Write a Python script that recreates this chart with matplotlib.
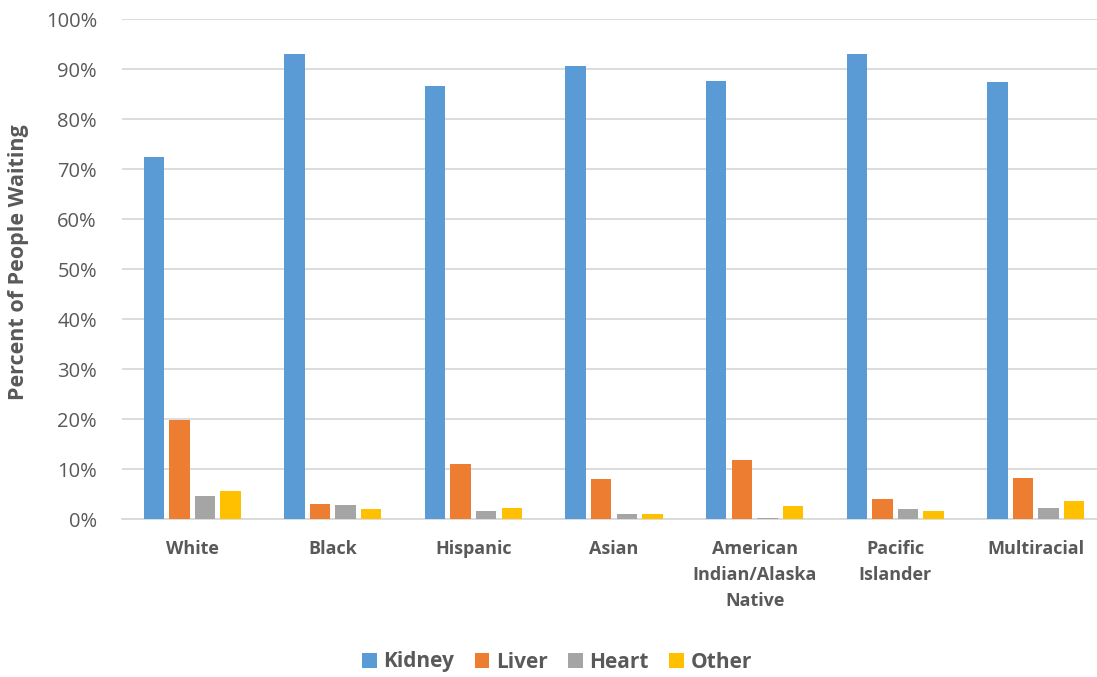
import numpy as np
import matplotlib.pyplot as plt
from matplotlib.ticker import PercentFormatter

plt.rcParams['font.family'] = ['Open Sans', 'DejaVu Sans']

# Data (percent of people waiting).
categories = ['White', 'Black', 'Hispanic', 'Asian',
              'American\nIndian/Alaska\nNative', 'Pacific\nIslander', 'Multiracial']
kidney = [72.4, 93.1, 86.7, 90.7, 87.6, 93.1, 87.5]
liver = [19.9, 3.1, 11.1, 8.1, 11.9, 4.1, 8.3]
heart = [4.7, 2.8, 1.7, 1.1, 0.2, 2.0, 2.3]
other = [5.7, 2.1, 2.3, 1.1, 2.7, 1.7, 3.7]

series = [('Kidney', kidney, '#5B9BD5'),
          ('Liver', liver, '#ED7D31'),
          ('Heart', heart, '#A5A5A5'),
          ('Other', other, '#FFC000')]

TEXT = '#595959'
GRID = '#D9D9D9'
W, H = 1097, 677

fig = plt.figure(figsize=(W / 100, H / 100), dpi=100)
ax = fig.add_axes([122 / W, (H - 519.3) / H, 984 / W, 500 / H])

x = np.arange(len(categories))
step = 0.182
for i, (name, vals, color) in enumerate(series):
    ax.bar(x + (i - 1.5) * step, vals, width=0.145, color=color, label=name,
           zorder=3)

ax.set_xlim(-0.5, len(categories) - 0.5)
ax.set_ylim(0, 100)
ax.set_yticks(np.arange(0, 101, 10))
ax.yaxis.set_major_formatter(PercentFormatter(decimals=0))
ax.grid(axis='y', color=GRID, linewidth=1.3, zorder=0)
for side in ['top', 'right', 'left']:
    ax.spines[side].set_visible(False)
ax.spines['bottom'].set_color(GRID)
ax.spines['bottom'].set_linewidth(1.3)

ax.set_xticks(x)
ax.set_xticklabels(categories, fontsize=13, fontweight='bold', color=TEXT,
                   linespacing=1.55)
ax.tick_params(axis='x', length=0, pad=15)
ax.tick_params(axis='y', length=0, pad=18, labelsize=14.5, labelcolor=TEXT)

fig.text(19 / W, (H - 262) / H, 'Percent of People Waiting', rotation=90,
         ha='center', va='center', fontsize=15.5, fontweight='bold', color=TEXT)

fig.legend(loc='center', bbox_to_anchor=(557 / W, (H - 662) / H), ncol=4,
           frameon=False, handlelength=0.7, handleheight=0.7,
           handletextpad=0.3, columnspacing=1.0,
           prop={'weight': 'bold', 'size': 15})
for t in fig.legends[0].get_texts():
    t.set_color(TEXT)

fig.savefig('out.png', dpi=100)
